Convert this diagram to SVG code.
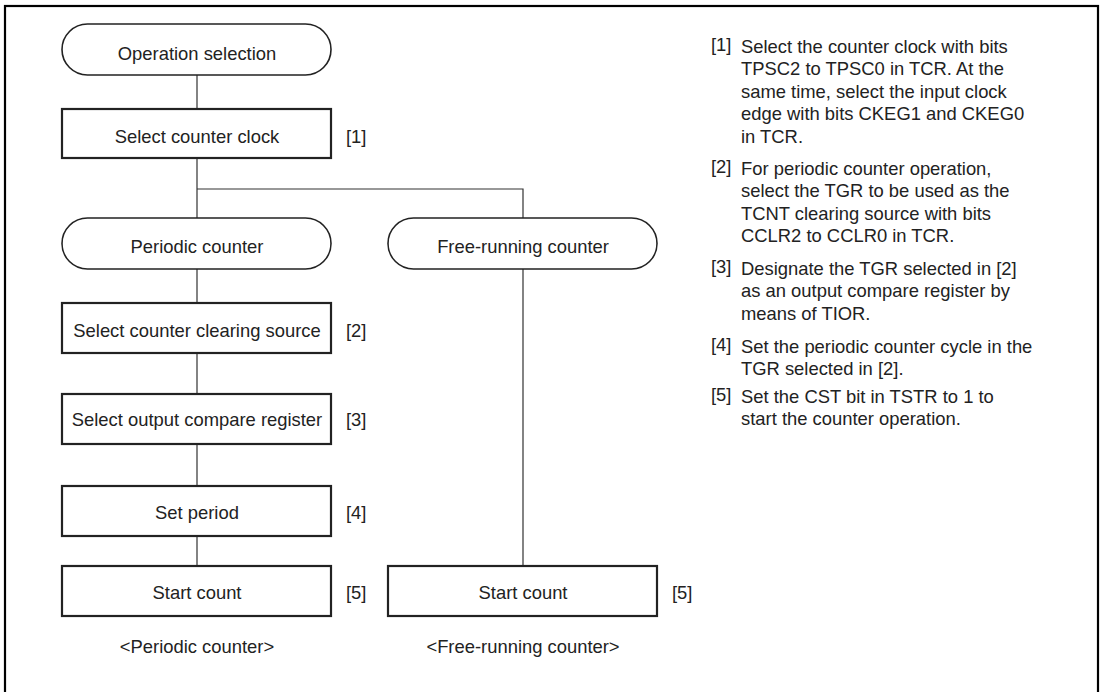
<svg xmlns="http://www.w3.org/2000/svg" width="1100" height="692" viewBox="0 0 1100 692">
<style>
text{font-family:"Liberation Sans",Arial,sans-serif;font-size:18.4px;fill:#222}
.c{text-anchor:middle}
.box{fill:#fff;stroke:#222;stroke-width:2.2}
.term{fill:#fff;stroke:#222;stroke-width:1.6}
.conn{fill:none;stroke:#333;stroke-width:1.2}
</style>
<rect x="0" y="0" width="1100" height="692" fill="#fff"/>
<rect x="5" y="6" width="1093" height="700" fill="none" stroke="#000" stroke-width="2.2"/>
<g id="connectors">
<path class="conn" d="M197 75V109M197 158V218M197 189H523V218M197 269V303M197 353V394M197 444V486M197 536V566M523 269V566"/>
</g>
<g id="op-select"><rect class="term" x="62" y="24" width="269" height="51" rx="25.5"/><text class="c" x="197" y="59.5">Operation selection</text></g>
<g id="sel-clock"><rect class="box" x="62" y="109" width="269" height="49"/><text class="c" x="197" y="142.5">Select counter clock</text><text x="346" y="143">[1]</text></g>
<g id="periodic"><rect class="term" x="62" y="218" width="269" height="51" rx="25.5"/><text class="c" x="197" y="253">Periodic counter</text></g>
<g id="free"><rect class="term" x="388" y="218" width="269" height="51" rx="25.5"/><text class="c" x="523" y="253">Free-running counter</text></g>
<g id="sel-clear"><rect class="box" x="62" y="303" width="269" height="50"/><text class="c" x="197" y="337">Select counter clearing source</text><text x="346" y="337">[2]</text></g>
<g id="sel-oc"><rect class="box" x="62" y="394" width="269" height="50"/><text class="c" x="197" y="426">Select output compare register</text><text x="346" y="426">[3]</text></g>
<g id="set-period"><rect class="box" x="62" y="486" width="269" height="50"/><text class="c" x="197" y="519">Set period</text><text x="346" y="519">[4]</text></g>
<g id="start1"><rect class="box" x="62" y="566" width="269" height="50"/><text class="c" x="197" y="599">Start count</text><text x="346" y="599">[5]</text></g>
<g id="start2"><rect class="box" x="388" y="566" width="269" height="50"/><text class="c" x="523" y="599">Start count</text><text x="672" y="599">[5]</text></g>
<text class="c" x="197" y="653">&lt;Periodic counter&gt;</text>
<text class="c" x="523" y="653">&lt;Free-running counter&gt;</text>
<g id="notes">
<text x="711" y="51">[1]</text>
<text x="741" y="53">Select the counter clock with bits</text>
<text x="741" y="75.4">TPSC2 to TPSC0 in TCR. At the</text>
<text x="741" y="97.8">same time, select the input clock</text>
<text x="741" y="120.2">edge with bits CKEG1 and CKEG0</text>
<text x="741" y="142.6">in TCR.</text>
<text x="711" y="173">[2]</text>
<text x="741" y="175">For periodic counter operation,</text>
<text x="741" y="197.4">select the TGR to be used as the</text>
<text x="741" y="219.8">TCNT clearing source with bits</text>
<text x="741" y="242.2">CCLR2 to CCLR0 in TCR.</text>
<text x="711" y="273">[3]</text>
<text x="741" y="275">Designate the TGR selected in [2]</text>
<text x="741" y="297.4">as an output compare register by</text>
<text x="741" y="319.8">means of TIOR.</text>
<text x="711" y="350.7">[4]</text>
<text x="741" y="352.7">Set the periodic counter cycle in the</text>
<text x="741" y="375.1">TGR selected in [2].</text>
<text x="711" y="401">[5]</text>
<text x="741" y="403">Set the CST bit in TSTR to 1 to</text>
<text x="741" y="425.4">start the counter operation.</text>
</g>
</svg>
